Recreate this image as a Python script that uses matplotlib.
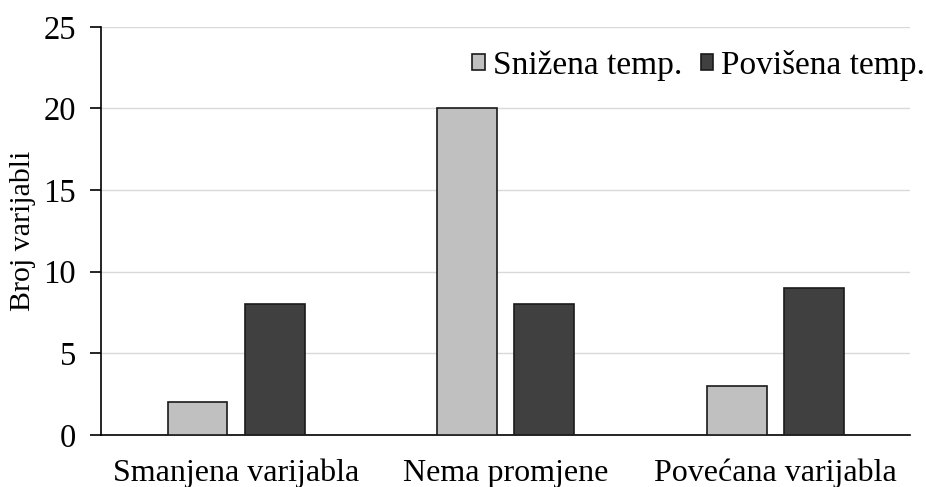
import numpy as np
import matplotlib.pyplot as plt

categories = ["Smanjena varijabla", "Nema promjene", "Povećana varijabla"]
snizena = [2, 20, 3]
povisena = [8, 8, 9]
series_labels = ["Snižena temp.", "Povišena temp."]

plt.rcParams["font.family"] = ["Liberation Serif", "DejaVu Serif"]

fig = plt.figure(figsize=(9.26, 4.87), dpi=100)
ax = fig.add_axes([0.109, 0.107, 0.874, 0.838])

x = np.arange(len(categories))
w = 0.222
ax.bar(x - 0.142, snizena, w, color="#c0c0c0", edgecolor="#1a1a1a", linewidth=1.2,
       label=series_labels[0], zorder=3)
ax.bar(x + 0.144, povisena, w, color="#404040", edgecolor="#1a1a1a", linewidth=1.2,
       label=series_labels[1], zorder=3)

ax.set_xlim(-0.5, 2.5)
ax.set_ylim(0, 25)
ax.set_yticks(range(0, 26, 5))
ax.set_xticks(x)
ax.set_xticklabels(categories, fontsize=23)
ax.tick_params(axis="x", length=0, pad=17)
ax.tick_params(axis="y", labelsize=23.5, length=8, width=1.2, direction="out", pad=10)
ax.yaxis.grid(True, color="#d9d9d9", linewidth=1, zorder=0)
ax.set_axisbelow(True)
ax.set_ylabel("Broj varijabli", fontsize=21.5)
ax.yaxis.set_label_coords(-0.080, 0.5)

for s in ["top", "right"]:
    ax.spines[s].set_visible(False)
ax.spines["left"].set_linewidth(1.2)
ax.spines["bottom"].set_linewidth(1.2)

ax.legend(loc="upper right", bbox_to_anchor=(1.035, 0.975), ncol=2, frameon=False,
          fontsize=24, handlelength=0.37, handleheight=0.37, handletextpad=0.25,
          columnspacing=0.55, borderaxespad=0)

fig.savefig("out.png", dpi=100)
